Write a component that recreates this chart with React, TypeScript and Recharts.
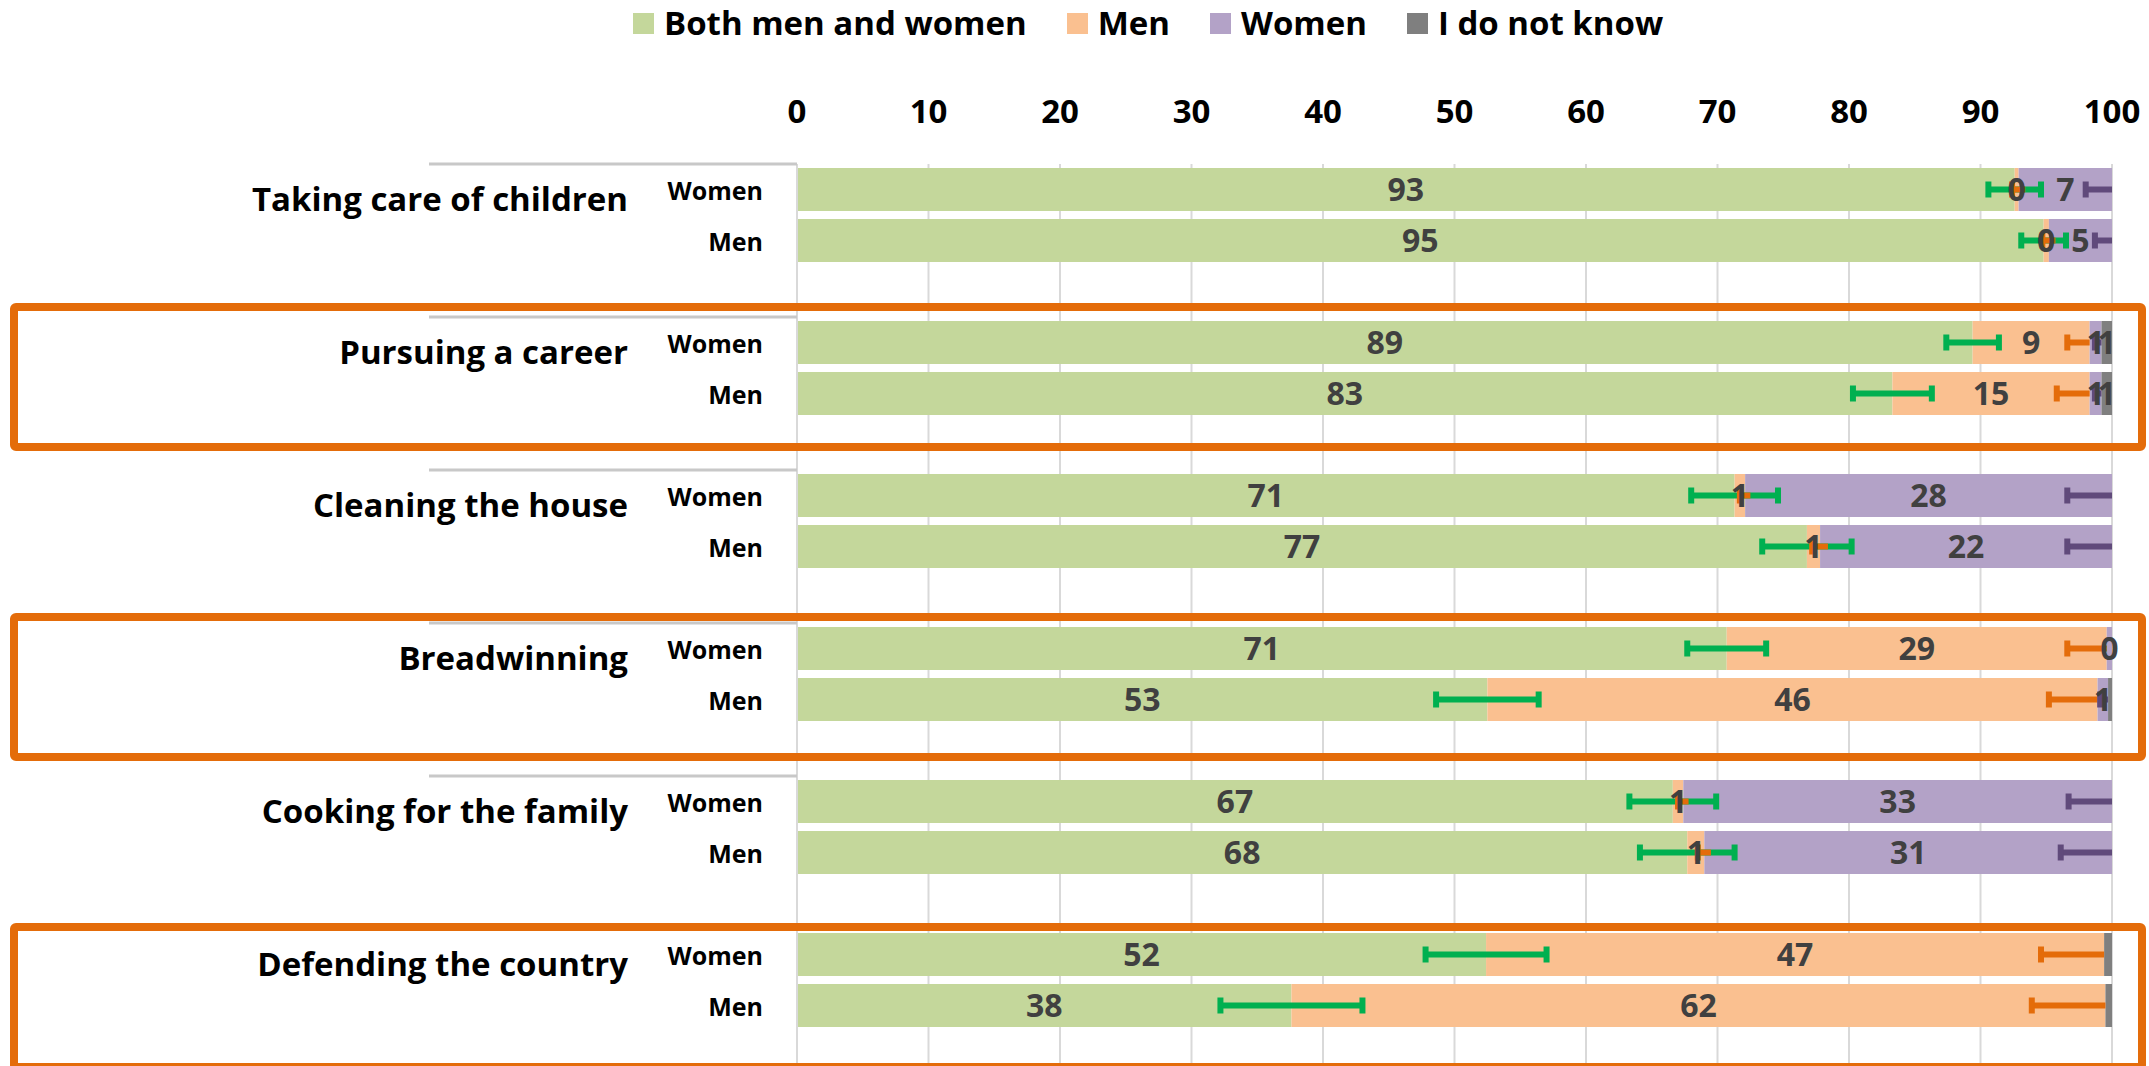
import React from 'react';
import { BarChart, Bar, XAxis, YAxis, CartesianGrid, ErrorBar, LabelList, Legend } from 'recharts';

// categories
const groups = [
  'Taking care of children',
  'Pursuing a career',
  'Cleaning the house',
  'Breadwinning',
  'Cooking for the family',
  'Defending the country',
];
const respondents = ['Women', 'Men'];
const legendNames = ['Both men and women', 'Men', 'Women', 'I do not know'];
const xTicks = [0, 10, 20, 30, 40, 50, 60, 70, 80, 90, 100];

// one value per row, order: group1 Women, group1 Men, group2 Women, ...
const bothVals = [92.6, 94.8, 89.4, 83.3, 71.3, 76.8, 70.7, 52.5, 66.6, 67.7, 52.4, 37.6];
const menVals = [0.3, 0.4, 8.9, 15, 0.8, 1.0, 28.9, 46.4, 0.8, 1.3, 47, 61.9];
const womenVals = [7.1, 4.8, 0.9, 0.9, 27.9, 22.2, 0.4, 0.8, 32.6, 31, 0, 0];
const dkVals = [0, 0, 0.8, 0.8, 0, 0, 0, 0.3, 0, 0, 0.6, 0.5];

// error bars (half widths, [minus, plus])
const bothErr = [2.0, 1.7, 2.0, 3.0, 3.3, 3.4, 3.0, 3.9, 3.3, 3.6, 4.6, 5.4];
const menErr = [[0.5, 0.5], [0.5, 0.5], [1.7, 0], [2.5, 0], [0.4, 0.4], [0.6, 0.6], [3.0, 0], [3.7, 0], [0.4, 0.4], [0.5, 0.5], [4.8, 0], [5.6, 0]];
const womenErr = [[2.0, 0], [1.3, 0], [0.5, 0], [0.5, 0], [3.4, 0], [3.4, 0], null, [0.6, 0], [3.3, 0], [3.9, 0], null, null];

const COLORS = ['#C4D79B', '#FAC090', '#B3A2C7', '#7F7F7F'];
const ERR_COLORS = ['#00B050', '#E46C0A', '#604A7B'];
const FONT = '"Open Sans", "DejaVu Sans", sans-serif';
const SLOT = 51;

const rows: any[] = [];
groups.forEach((g, gi) => {
  respondents.forEach((r, ri) => {
    const i = gi * 2 + ri;
    rows.push({
      key: gi + '|' + r,
      both: bothVals[i],
      men: menVals[i],
      women: womenVals[i],
      dk: dkVals[i],
      bothErr: bothErr[i],
      menErr: menErr[i],
      womenErr: womenErr[i],
    });
  });
  rows.push({ key: gi + '|gap' });
});

function CatTick({ y, payload }: any) {
  const [gi, role] = String(payload.value).split('|');
  if (role === 'gap') return null;
  if (role === 'Men') {
    return (
      <text x={763} y={y + 10} textAnchor="end" fontSize={25} fontWeight={700} fill="#000" fontFamily={FONT}>
        Men
      </text>
    );
  }
  return (
    <g>
      <line x1={429} x2={797} y1={y - SLOT / 2} y2={y - SLOT / 2} stroke="#C8C8C8" strokeWidth={3} />
      <text x={628} y={y + 21} textAnchor="end" fontSize={33} fontWeight={700} fill="#000" fontFamily={FONT}>
        {groups[Number(gi)]}
      </text>
      <text x={763} y={y + 10} textAnchor="end" fontSize={25} fontWeight={700} fill="#000" fontFamily={FONT}>
        Women
      </text>
    </g>
  );
}

function LegendBox() {
  return (
    <div style={{ display: 'flex', alignItems: 'center', height: 32, fontFamily: FONT }}>
      {legendNames.map((n, i) => (
        <div key={n} style={{ display: 'flex', alignItems: 'center', marginRight: 40 }}>
          <span style={{ width: 21, height: 21, background: COLORS[i], marginRight: 10, display: 'inline-block' }} />
          <span style={{ fontSize: 33, fontWeight: 700, lineHeight: '32px', color: '#000', whiteSpace: 'nowrap' }}>{n}</span>
        </div>
      ))}
    </div>
  );
}

const showPos = (v: any) => (typeof v === 'number' && v > 0 ? Math.round(v) : '');
const showDk = (v: any) => (typeof v === 'number' && v >= 0.7 ? Math.round(v) : '');

const boxes = [
  { top: 303, height: 148 },
  { top: 613, height: 148 },
  { top: 923, height: 148 },
];

const css = `
.recharts-errorBar[stroke="#E46C0A"] > line:first-of-type,
.recharts-errorBar[stroke="#604A7B"] > line:first-of-type { display: none; }
`;

export default function App() {
  const labelProps = { fill: '#404040', fontSize: 32, fontWeight: 700, fontFamily: FONT };
  return (
    <div style={{ position: 'absolute', left: 0, top: 0, width: 2149, height: 1066, overflow: 'hidden', background: '#fff', fontFamily: FONT }}>
      <style>{css}</style>
      <BarChart
        width={2149}
        height={164 + SLOT * 18}
        data={rows}
        layout="vertical"
        margin={{ top: 0, right: 37, bottom: 0, left: 0 }}
        barSize={43}
      >
        <CartesianGrid horizontal={false} stroke="#D9D9D9" strokeWidth={2} />
        <XAxis
          type="number"
          orientation="top"
          domain={[0, 100]}
          ticks={xTicks}
          allowDataOverflow
          height={164}
          tickSize={0}
          tickMargin={41}
          axisLine={false}
          tickLine={false}
          tick={{ fontSize: 33, fontWeight: 700, fill: '#000', fontFamily: FONT }}
        />
        <YAxis
          type="category"
          dataKey="key"
          width={797}
          interval={0}
          tickLine={false}
          axisLine={{ stroke: '#D9D9D9', strokeWidth: 2 }}
          tick={(p: any) => <CatTick {...p} />}
        />
        <Legend
          layout="horizontal"
          verticalAlign="middle"
          align="center"
          wrapperStyle={{ top: 7, left: 633, width: 'auto' }}
          content={() => <LegendBox />}
        />
        <Bar dataKey="both" stackId="s" fill={COLORS[0]} isAnimationActive={false}>
          <ErrorBar dataKey="bothErr" direction="x" width={8} stroke={ERR_COLORS[0]} strokeWidth={6} isAnimationActive={false} />
          <LabelList dataKey="both" position="center" formatter={showPos} {...labelProps} />
        </Bar>
        <Bar dataKey="men" stackId="s" fill={COLORS[1]} isAnimationActive={false}>
          <ErrorBar dataKey="menErr" direction="x" width={8} stroke={ERR_COLORS[1]} strokeWidth={6} isAnimationActive={false} />
          <LabelList dataKey="men" position="center" formatter={(v: any) => (typeof v === 'number' ? Math.round(v) : '')} {...labelProps} />
        </Bar>
        <Bar dataKey="women" stackId="s" fill={COLORS[2]} isAnimationActive={false}>
          <ErrorBar dataKey="womenErr" direction="x" width={8} stroke={ERR_COLORS[2]} strokeWidth={6} isAnimationActive={false} />
          <LabelList dataKey="women" position="center" formatter={showPos} {...labelProps} />
        </Bar>
        <Bar dataKey="dk" stackId="s" fill={COLORS[3]} isAnimationActive={false}>
          <LabelList dataKey="dk" position="center" formatter={showDk} {...labelProps} />
        </Bar>
      </BarChart>
      {boxes.map((b, i) => (
        <div
          key={i}
          style={{
            position: 'absolute',
            left: 10,
            width: 2136,
            top: b.top,
            height: b.height,
            border: '8px solid #E46C0A',
            borderRadius: 6,
            boxSizing: 'border-box',
            pointerEvents: 'none',
          }}
        />
      ))}
    </div>
  );
}
